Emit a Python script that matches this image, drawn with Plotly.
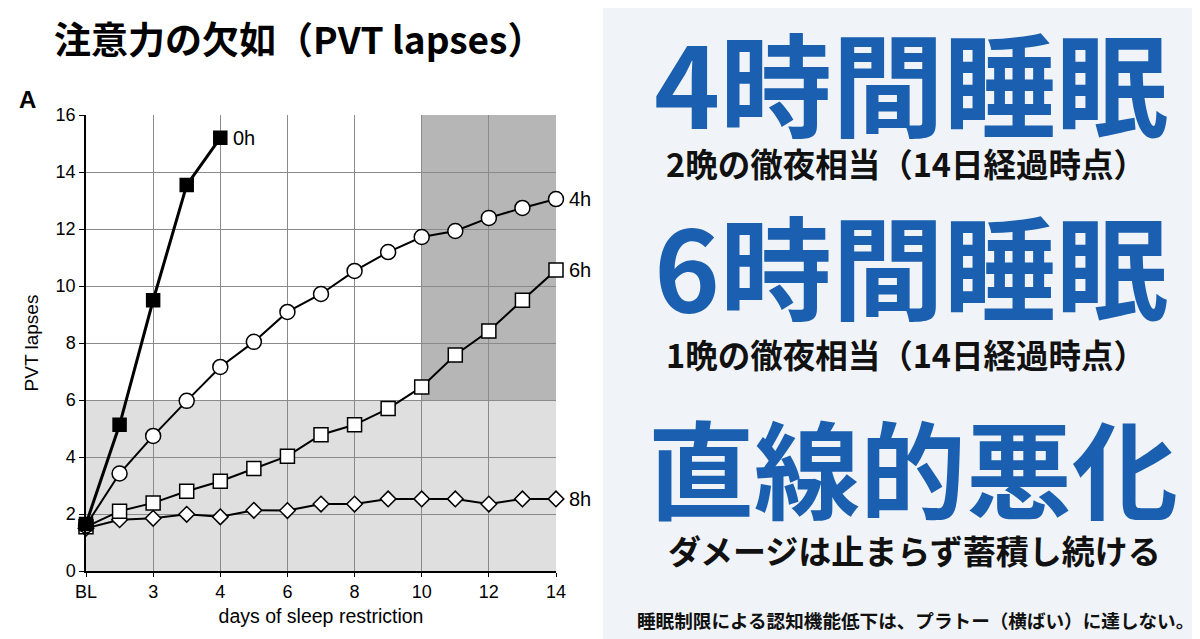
import plotly.graph_objects as go

# PVT lapses by day of sleep restriction (BL = day 0)
days = list(range(15))
lapses_0h = [1.65, 5.13, 9.5, 13.54, 15.2]
lapses_4h = [1.6, 3.42, 4.74, 5.97, 7.16, 8.04, 9.09, 9.72, 10.53, 11.19, 11.72, 11.93, 12.39, 12.74, 13.05]
lapses_6h = [1.55, 2.1, 2.39, 2.8, 3.15, 3.6, 4.03, 4.78, 5.13, 5.7, 6.46, 7.58, 8.42, 9.5, 10.56]
lapses_8h = [1.5, 1.8, 1.85, 1.99, 1.9, 2.13, 2.12, 2.35, 2.35, 2.53, 2.53, 2.53, 2.35, 2.53, 2.53]

x_tickvals = [0, 2, 4, 6, 8, 10, 12, 14]
x_ticktext = ["BL", "3", "4", "6", "8", "10", "12", "14"]
y_tickvals = [0, 2, 4, 6, 8, 10, 12, 14, 16]

FONT = "Liberation Sans, Arial, sans-serif"
JP = "Noto Sans CJK JP, sans-serif"
BLUE = "#1a5fb0"


# helpers: page pixel -> paper coords (plot area spans x 86..556, y 115..571)
def px_x(px):
    return (px - 86) / 470.0


def px_y(py):
    return (571 - py) / 456.0


fig = go.Figure()

# shaded bands (below grid)
fig.add_shape(type="rect", x0=0, x1=14, y0=0, y1=6, fillcolor="#dfdfdf", line_width=0, layer="below")
fig.add_shape(type="rect", x0=10, x1=14, y0=6, y1=16, fillcolor="#b6b6b6", line_width=0, layer="below")

# right-hand panel background
fig.add_shape(type="rect", xref="paper", yref="paper", x0=px_x(603), x1=px_x(1250), y0=px_y(700), y1=px_y(-50),
              fillcolor="#f0f4f8", line_width=0, layer="below")

series = [
    ("8h", lapses_8h, "diamond", "white", 12, 2),
    ("6h", lapses_6h, "square", "white", 14, 2),
    ("4h", lapses_4h, "circle", "white", 15, 2),
    ("0h", lapses_0h, "square", "black", 13, 3),
]
for name, vals, sym, fill, size, lw in series:
    fig.add_trace(go.Scatter(
        x=days[:len(vals)], y=vals, mode="lines+markers", name=name,
        line=dict(color="black", width=lw),
        marker=dict(symbol=sym, size=size, color=fill, line=dict(color="black", width=1.5)),
        cliponaxis=False,
    ))
    fig.add_annotation(x=days[len(vals) - 1], y=vals[-1], text=name, showarrow=False,
                       xanchor="left", xshift=11, font=dict(family=FONT, size=20, color="black"))

fig.update_xaxes(
    range=[0, 14], tickvals=x_tickvals, ticktext=x_ticktext,
    showgrid=True, gridcolor="#8a8a8a", gridwidth=1,
    showline=True, linecolor="black", linewidth=1.5,
    ticks="outside", ticklen=4, tickcolor="black",
    tickfont=dict(family=FONT, size=18, color="black"),
    title=dict(text="days of sleep restriction", font=dict(family=FONT, size=19.5, color="black"), standoff=8),
    zeroline=False,
)
fig.update_yaxes(
    range=[0, 16], tickvals=y_tickvals,
    showgrid=True, gridcolor="#8a8a8a", gridwidth=1,
    showline=True, linecolor="black", linewidth=1.5,
    ticks="outside", ticklen=5, tickcolor="black",
    tickfont=dict(family=FONT, size=18, color="black"),
    title=dict(text="PVT lapses", font=dict(family=FONT, size=19, color="black"), standoff=12),
    zeroline=False,
)

# titles on the left
fig.add_annotation(xref="paper", yref="paper", x=px_x(27), y=px_y(100), text="<b>A</b>", showarrow=False,
                   xanchor="center", yanchor="middle", font=dict(family=FONT, size=24, color="black"))
fig.add_annotation(xref="paper", yref="paper", x=px_x(299), y=px_y(38), text="<b>注意力の欠如（PVT lapses）</b>",
                   showarrow=False, xanchor="center", yanchor="middle", font=dict(family=JP, size=37, color="black"))

right_texts = [
    ("4時間睡眠", 80, 112, BLUE, 911),
    ("2晩の徹夜相当（14日経過時点）", 162, 32.5, "#111111", 906),
    ("6時間睡眠", 263, 112, BLUE, 911),
    ("1晩の徹夜相当（14日経過時点）", 353, 32.5, "#111111", 906),
    ("直線的悪化", 465, 106, BLUE, 913),
    ("ダメージは止まらず蓄積し続ける", 550, 33, "#111111", 914),
    ("睡眠制限による認知機能低下は、プラトー（横ばい）に達しない。", 619, 18.6, "#111111", 915),
]
for txt, cy, size, col, cx in right_texts:
    fig.add_annotation(xref="paper", yref="paper", x=px_x(cx), y=px_y(cy), text="<b>" + txt + "</b>",
                       showarrow=False, xanchor="center", yanchor="middle",
                       font=dict(family=JP, size=size, color=col))

# the page body adds an 8px margin, so the margins are shifted by 8px
fig.update_layout(
    width=1200, height=639,
    margin=dict(l=78, r=652, t=107, b=76),
    paper_bgcolor="white", plot_bgcolor="white",
    showlegend=False,
)

fig.write_html("out.html")
